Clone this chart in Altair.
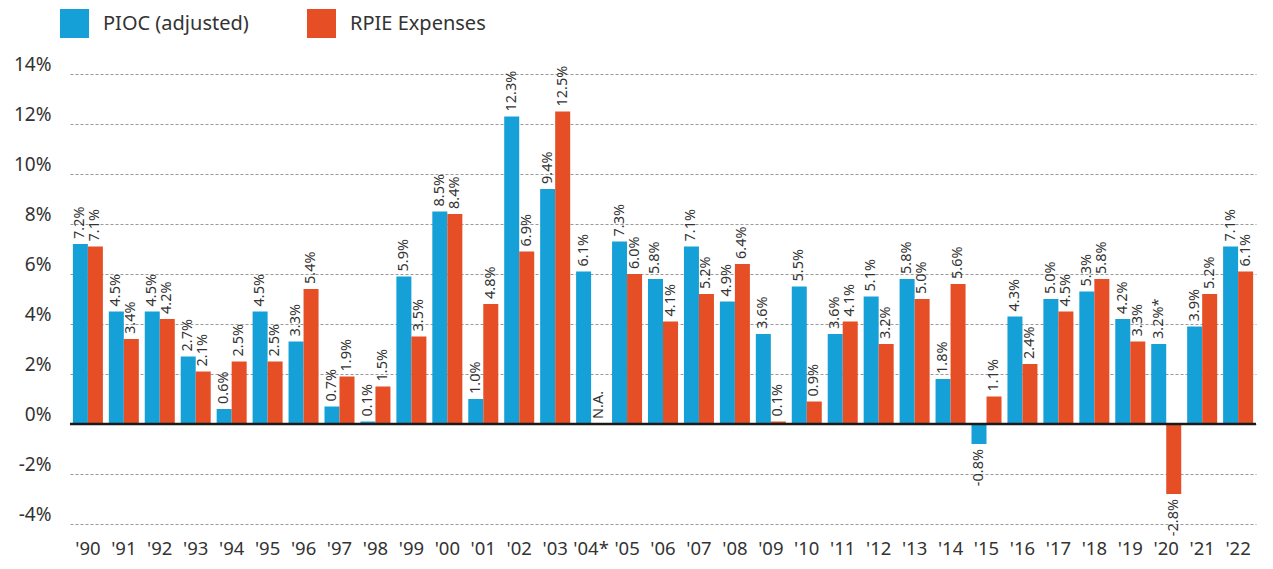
import altair as alt
import pandas as pd

years = ["'90", "'91", "'92", "'93", "'94", "'95", "'96", "'97", "'98", "'99",
         "'00", "'01", "'02", "'03", "'04*", "'05", "'06", "'07", "'08", "'09",
         "'10", "'11", "'12", "'13", "'14", "'15", "'16", "'17", "'18", "'19",
         "'20", "'21", "'22"]
pioc = [7.2, 4.5, 4.5, 2.7, 0.6, 4.5, 3.3, 0.7, 0.1, 5.9,
        8.5, 1.0, 12.3, 9.4, 6.1, 7.3, 5.8, 7.1, 4.9, 3.6,
        5.5, 3.6, 5.1, 5.8, 1.8, -0.8, 4.3, 5.0, 5.3, 4.2,
        3.2, 3.9, 7.1]
rpie = [7.1, 3.4, 4.2, 2.1, 2.5, 2.5, 5.4, 1.9, 1.5, 3.5,
        8.4, 4.8, 6.9, 12.5, None, 6.0, 4.1, 5.2, 6.4, 0.1,
        0.9, 4.1, 3.2, 5.0, 5.6, 1.1, 2.4, 4.5, 5.8, 3.3,
        -2.8, 5.2, 6.1]
label_overrides = {("PIOC (adjusted)", "'20"): "3.2%*", ("RPIE Expenses", "'04*"): "N.A."}
series_names = ["PIOC (adjusted)", "RPIE Expenses"]
colors = ["#16a0d8", "#e64f26"]
y_ticks = [-4, -2, 0, 2, 4, 6, 8, 10, 12, 14]

rows = []
for name, vals in zip(series_names, [pioc, rpie]):
    for yr, v in zip(years, vals):
        lab = label_overrides.get((name, yr), f"{v:.1f}%" if v is not None else "")
        rows.append({"year": yr, "series": name, "value": v,
                     "label": lab, "label_y": v if v is not None else 0.0})
df = pd.DataFrame(rows)

x_enc = alt.X("year:N", sort=years,
              scale=alt.Scale(paddingInner=0.165, paddingOuter=0.08),
              axis=alt.Axis(title=None, labelAngle=0, ticks=False, domain=False,
                            labelFontSize=18.5, labelPadding=15, labelColor="#333333",
                            labelBaseline="top", grid=False))
xo_enc = alt.XOffset("series:N", sort=series_names)
y_scale = alt.Scale(domain=[-4, 14], nice=False)

base = alt.Chart(df)

bars = base.mark_bar().encode(
    x=x_enc,
    xOffset=xo_enc,
    y=alt.Y("value:Q", scale=y_scale,
            axis=alt.Axis(values=y_ticks, labelExpr="datum.value + '%'", title=None,
                          ticks=False, domain=False, grid=True, gridDash=[3, 2],
                          gridColor="#9a9a9a", gridWidth=1, labelBaseline="bottom",
                          labelPadding=19, labelFontSize=19, labelColor="#333333")),
    color=alt.Color("series:N", sort=series_names,
                    scale=alt.Scale(domain=series_names, range=colors),
                    legend=alt.Legend(orient="none", legendX=-10, legendY=-65,
                                      direction="horizontal", title=None,
                                      symbolType="square", symbolSize=841,
                                      symbolStrokeWidth=0, labelFontSize=20,
                                      labelOffset=14, columnPadding=58,
                                      labelLimit=400,
                                      labelColor="#333333", padding=0)),
)

pos_labels = base.transform_filter("datum.label_y >= 0").mark_text(
    angle=270, align="left", baseline="middle", dx=5, fontSize=14.5, color="#333333"
).encode(x=x_enc, xOffset=xo_enc, y=alt.Y("label_y:Q", scale=y_scale), text="label:N")

neg_labels = base.transform_filter("datum.label_y < 0").mark_text(
    angle=270, align="right", baseline="middle", dx=-5, fontSize=14.5, color="#333333"
).encode(x=x_enc, xOffset=xo_enc, y=alt.Y("label_y:Q", scale=y_scale), text="label:N")

zero = alt.Chart(pd.DataFrame({"z": [0]})).mark_rule(color="#1a1a1a", strokeWidth=2.5).encode(
    y=alt.Y("z:Q", scale=y_scale))

chart = alt.layer(bars, zero, pos_labels, neg_labels).properties(
    width=1186, height=450,
    autosize=alt.AutoSizeParams(type="none"),
    padding={"left": 62, "top": 66, "right": 9, "bottom": 37},
).configure(font="Noto Sans").configure_view(stroke=None)

chart.save("out.html", embed_options={"renderer": "svg", "actions": False})
